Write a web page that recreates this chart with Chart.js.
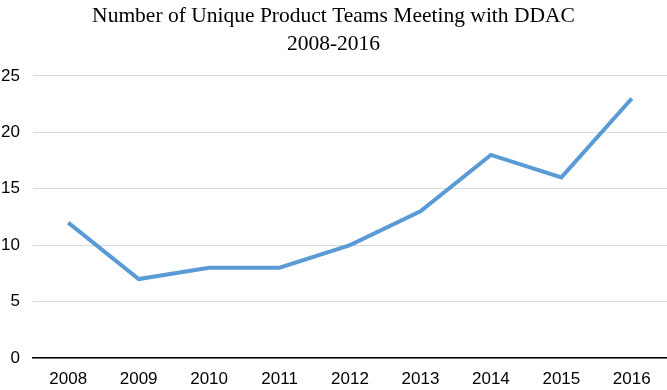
<!DOCTYPE html>
<html>
<head>
<meta charset="utf-8">
<script src="https://cdn.jsdelivr.net/npm/chart.js@4"></script>
<style>
html,body{margin:0;padding:0;background:#fff;}
#wrap{width:667px;height:390px;position:relative;}
</style>
</head>
<body>
<div id="wrap"><canvas id="c" width="667" height="390"></canvas></div>
<script>
const titleLines = ["Number of Unique Product Teams Meeting with DDAC", "2008-2016"];
const years = ["2008","2009","2010","2011","2012","2013","2014","2015","2016"];
const teams = [12, 7, 8, 8, 10, 13, 18, 16, 23];
const yMin = 0, yMax = 25, yStep = 5;

new Chart(document.getElementById('c'), {
  type: 'line',
  data: {
    labels: years,
    datasets: [{
      data: teams,
      borderColor: '#5b9bd5',
      borderWidth: 4,
      pointRadius: 0,
      tension: 0,
      fill: false
    }]
  },
  options: {
    responsive: false,
    animation: false,
    layout: { padding: { left: 0, right: 0, top: 0, bottom: 0 } },
    plugins: {
      legend: { display: false },
      tooltip: { enabled: false },
      title: {
        display: true,
        text: titleLines,
        color: '#000',
        font: { family: '"Liberation Serif", "Times New Roman", serif', size: 21.5, weight: 'normal', lineHeight: 1.3 },
        padding: { top: 2, bottom: 18 }
      }
    },
    scales: {
      x: {
        offset: true,
        grid: { display: false, drawTicks: false },
        border: { display: true, color: '#000', width: 1.5 },
        ticks: { color: '#000', font: { family: '"Liberation Sans", Arial, sans-serif', size: 17 }, padding: 11, maxRotation: 0 },
        afterFit: s => { s.height = 32; }
      },
      y: {
        min: yMin, max: yMax,
        grid: { color: '#d9d9d9', lineWidth: 1, drawTicks: false },
        border: { display: false },
        ticks: { stepSize: yStep, color: '#000', font: { family: '"Liberation Sans", Arial, sans-serif', size: 17 }, padding: 13 },
        afterFit: s => { s.width = 33; }
      }
    }
  }
});
</script>
</body>
</html>
